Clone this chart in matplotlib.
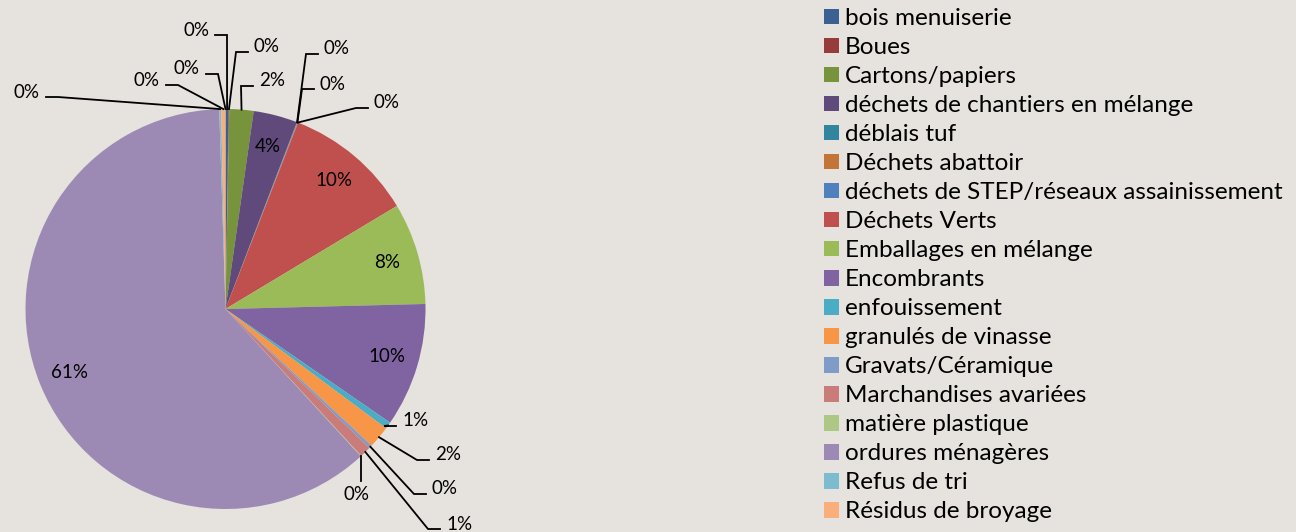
import numpy as np
import matplotlib.pyplot as plt

plt.rcParams['font.family'] = ['Lato', 'DejaVu Sans']

categories = ['bois menuiserie', 'Boues', 'Cartons/papiers', 'déchets de chantiers en mélange',
              'déblais tuf', 'Déchets abattoir', 'déchets de STEP/réseaux assainissement',
              'Déchets Verts', 'Emballages en mélange', 'Encombrants', 'enfouissement',
              'granulés de vinasse', 'Gravats/Céramique', 'Marchandises avariées',
              'matière plastique', 'ordures ménagères', 'Refus de tri', 'Résidus de broyage',
              '']  # last entry: unnamed point with a 0% label, not in the legend
shares = [0.25, 0.05, 1.95, 3.55, 0.03, 0.03, 0.04, 10.45, 8.2, 10.0, 0.55,
          1.8, 0.25, 0.9, 0.05, 61.2, 0.15, 0.35, 0.0]
colors = ['#3B6192', '#963C3B', '#77933C', '#604A7B', '#31859C', '#C27536',
          '#4F81BD', '#C0504D', '#9BBB59', '#8064A2', '#4BACC6', '#F79646',
          '#7F9BC8', '#C97C7A', '#AFC785', '#9C8AB5', '#7DBBD1', '#F9AE7B', '#3B6192']

# where the small slices get their labels (pixels, from top left)
label_pos = {0: (196, 30), 1: (267, 47), 2: (272, 81), 4: (337, 49), 5: (333, 84),
             6: (387, 103), 10: (415, 421), 11: (448, 455), 12: (445, 489),
             13: (459, 524), 14: (357, 494), 16: (27, 92), 17: (147, 80), 18: (187, 69)}

bg = '#E6E2DD'
cx, cy, R = 225.5, 309, 200

fig = plt.figure(figsize=(12.96, 5.32), dpi=100, facecolor=bg)
ax = fig.add_axes([0, 0, 1, 1])
wedges, _ = ax.pie(shares, colors=colors, startangle=-90, counterclock=True,
                   center=(cx, cy), radius=R, wedgeprops=dict(linewidth=0), frame=True)
ax.set_xlim(0, 1296)
ax.set_ylim(532, 0)
ax.set_aspect('equal')
ax.axis('off')

total = sum(shares)
for i, w in enumerate(wedges):
    txt = f'{round(shares[i] / total * 100)}%'
    ang = np.deg2rad((w.theta1 + w.theta2) / 2)
    if i not in label_pos:
        r = 0.84 * R
        ax.text(cx + r * np.cos(ang), cy + r * np.sin(ang), txt, fontsize=13.5,
                ha='center', va='center')
        continue
    tx, ty = label_pos[i]
    ax.text(tx, ty, txt, fontsize=13.5, ha='center', va='center')
    x0, y0 = cx + R * np.cos(ang), cy + R * np.sin(ang)
    if abs(x0 - tx) < 20:
        ax.plot([x0, x0], [y0, ty - 13], color='black', lw=1.3)
        continue
    side = 1 if x0 > tx else -1
    xa = tx + side * 19
    xb = xa + side * 12
    ly = ty + 5
    ax.plot([xa, xb, x0], [ly, ly, y0], color='black', lw=1.3, solid_joinstyle='miter')

ax.legend(wedges[:18], categories[:18], loc='upper left', bbox_to_anchor=(824, 8),
          bbox_transform=ax.transData, frameon=False, fontsize=17.5, handlelength=0.62,
          handleheight=0.62, handletextpad=0.25, labelspacing=0.33, borderpad=0,
          borderaxespad=0)

fig.savefig('out.png', dpi=100, facecolor=bg)
